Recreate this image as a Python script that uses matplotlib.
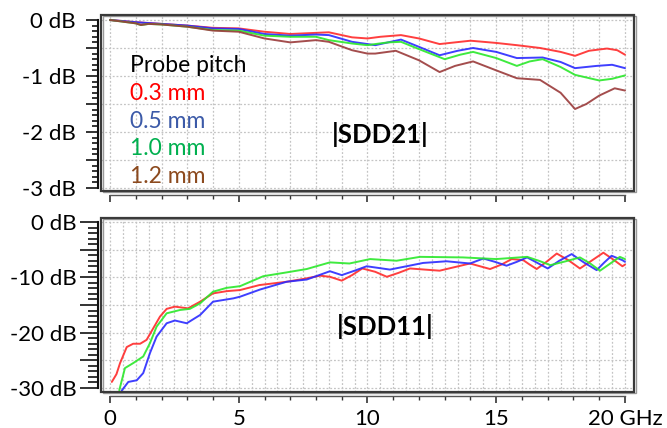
import numpy as np
import matplotlib
matplotlib.use("Agg")
import matplotlib.pyplot as plt
from matplotlib.patches import Rectangle
from matplotlib.ticker import MultipleLocator, FixedLocator, FuncFormatter

plt.rcParams['font.family'] = ['Lato', 'DejaVu Sans']

# ---------------- data ----------------
pitch_labels = ["0.3 mm", "0.5 mm", "1.0 mm", "1.2 mm"]
line_colors = ["#ff2a2a", "#2a2aff", "#2ae82a", "#9a3a3a"]
text_colors = ["#ff0000", "#3c5aa8", "#00b04f", "#8c4a1e"]

# |SDD21| (dB)
sdd21_f_03 = [0, 1, 2, 3, 4, 5, 6, 7, 8, 8.5, 9.4, 10, 10.5, 11.3, 12, 12.8, 14, 15, 15.8, 16.7, 17.5, 18.06, 18.6, 19.3, 19.7, 20]
sdd21_v_03 = [0, -0.04, -0.07, -0.10, -0.14, -0.15, -0.21, -0.25, -0.23, -0.22, -0.31, -0.33, -0.30, -0.27, -0.33, -0.43, -0.37, -0.41, -0.45, -0.50, -0.57, -0.64, -0.55, -0.51, -0.54, -0.62]

sdd21_f_05 = [0, 1, 2, 3, 4, 5, 6, 7, 8, 8.5, 9.4, 10, 10.3, 10.8, 11.3, 12, 12.8, 13.5, 14.1, 15, 15.8, 16.8, 17.5, 18.06, 18.9, 19.5, 20]
sdd21_v_05 = [0, -0.04, -0.07, -0.10, -0.15, -0.16, -0.25, -0.28, -0.26, -0.27, -0.39, -0.43, -0.45, -0.40, -0.35, -0.48, -0.63, -0.55, -0.50, -0.57, -0.68, -0.67, -0.75, -0.86, -0.82, -0.80, -0.86]

sdd21_f_10 = [0, 1, 1.2, 1.5, 2, 3, 4, 5, 6, 7, 8, 8.5, 9.4, 10, 10.3, 10.8, 11.3, 12, 13, 13.6, 14.1, 15, 15.8, 16.3, 16.8, 17.5, 18.06, 19, 19.5, 20]
sdd21_v_10 = [0, -0.06, -0.09, -0.07, -0.08, -0.12, -0.18, -0.19, -0.28, -0.30, -0.30, -0.36, -0.42, -0.45, -0.43, -0.40, -0.39, -0.52, -0.70, -0.62, -0.57, -0.68, -0.82, -0.74, -0.70, -0.84, -0.98, -1.08, -1.05, -0.99]

sdd21_f_12 = [0, 1, 1.2, 1.5, 2, 3, 4, 5, 6, 7, 8, 8.5, 9.4, 10, 10.3, 11.1, 12, 12.8, 13.4, 14.1, 15, 15.8, 16.7, 17.5, 18.06, 18.5, 19, 19.6, 20]
sdd21_v_12 = [0, -0.06, -0.09, -0.07, -0.08, -0.12, -0.19, -0.21, -0.33, -0.40, -0.36, -0.39, -0.54, -0.60, -0.60, -0.55, -0.72, -0.93, -0.82, -0.74, -0.90, -1.04, -1.07, -1.30, -1.59, -1.50, -1.35, -1.22, -1.26]

# |SDD11| (dB)
sdd11_f_03 = [0.07, 0.25, 0.39, 0.65, 0.9, 1.17, 1.42, 1.68, 1.94, 2.2, 2.52, 3.03, 3.5, 4.0, 4.53, 5.05, 5.8, 6.86, 7.5, 8.16, 8.54, 9.0, 9.4, 9.8, 10.3, 10.75, 11.2, 11.65, 12.8, 13.98, 14.76, 15.2, 15.6, 16.05, 16.3, 16.57, 16.95, 17.35, 17.8, 18.25, 18.7, 19.16, 19.55, 19.9, 20.0]
sdd11_v_03 = [-28.9, -27.5, -25.5, -22.6, -22.0, -22.0, -21.3, -19.2, -17.1, -15.7, -15.3, -15.6, -14.4, -12.9, -12.5, -12.3, -11.4, -10.8, -10.3, -9.7, -9.9, -10.6, -9.6, -8.4, -9.0, -9.9, -9.2, -8.4, -8.8, -7.5, -8.5, -7.7, -6.7, -6.9, -7.7, -8.5, -7.2, -5.7, -6.9, -8.4, -7.0, -5.55, -6.8, -8.0, -7.7]

sdd11_f_05 = [0.45, 0.71, 1.04, 1.29, 1.55, 1.81, 2.2, 2.52, 2.98, 3.5, 4.0, 4.79, 5.05, 5.83, 6.86, 7.64, 8.54, 9.0, 9.5, 9.97, 10.87, 12.16, 13.07, 13.98, 14.5, 14.95, 15.4, 15.8, 16.2, 16.6, 17.0, 17.45, 17.93, 18.4, 18.9, 19.2, 19.48, 19.9, 20.0]
sdd11_v_05 = [-30.5, -28.9, -28.6, -27.3, -23.7, -20.7, -18.3, -17.8, -18.3, -16.8, -14.4, -13.8, -13.5, -12.2, -10.8, -10.4, -8.9, -9.6, -8.8, -8.0, -8.6, -7.4, -7.1, -7.5, -6.6, -7.2, -7.9, -7.2, -6.4, -7.4, -8.4, -7.0, -5.8, -7.3, -8.7, -7.3, -6.1, -6.9, -7.2]

sdd11_f_10 = [0.36, 0.58, 0.9, 1.29, 1.55, 1.81, 2.2, 2.72, 3.1, 3.5, 4.0, 4.53, 5.05, 5.95, 6.87, 7.64, 8.54, 9.3, 10.1, 11.13, 12.04, 13.7, 15.0, 16.2, 16.65, 17.1, 17.7, 18.25, 18.65, 19.03, 19.4, 19.8, 20.0]
sdd11_v_10 = [-30.4, -26.4, -25.5, -24.3, -21.9, -18.9, -16.5, -15.9, -15.7, -14.7, -12.6, -11.9, -11.6, -9.8, -9.1, -8.5, -7.3, -7.5, -6.7, -7.0, -6.3, -6.4, -6.7, -6.3, -7.0, -7.8, -7.1, -6.4, -7.5, -8.8, -7.6, -6.3, -6.7]

sdd21_series = [(sdd21_f_03, sdd21_v_03), (sdd21_f_05, sdd21_v_05),
                (sdd21_f_10, sdd21_v_10), (sdd21_f_12, sdd21_v_12)]
sdd11_series = [(sdd11_f_03, sdd11_v_03), (sdd11_f_05, sdd11_v_05),
                (sdd11_f_10, sdd11_v_10)]

x_major = [0, 5, 10, 15, 20]
x_labels = ["0", "5", "10", "15", "20 GHz"]

# ---------------- figure ----------------
W, H = 667, 428
fig = plt.figure(figsize=(W / 100, H / 100), dpi=100)

def px_rect(x0, y0, x1, y1):
    return [x0 / W, 1 - y1 / H, (x1 - x0) / W, (y1 - y0) / H]

ax1 = fig.add_axes(px_rect(101, 15, 634, 191))
ax2 = fig.add_axes(px_rect(101, 218, 634, 392))

PT = 0.72  # points per pixel

def style(ax, ylo, yhi, ymaj, ymin, ylab_step, maj_len, min_len, ypad, vgrid, hgrid, show_xlabels):
    ax.set_xlim(-0.35, 20.35)
    ax.set_ylim(ylo, yhi)
    for s in ("top", "right"):
        ax.spines[s].set_visible(False)
    ax.spines["left"].set_position(("outward", 3.5 * PT))
    ax.spines["left"].set_linewidth(1.5)
    ax.spines["left"].set_color("#111111")
    ax.spines["bottom"].set_position(("outward", 4 * PT))
    ax.spines["bottom"].set_color("#555555")
    ax.spines["bottom"].set_linewidth(1.0)
    bottom_lim = -3 if ylo > -10 else -30
    ax.spines["left"].set_bounds(bottom_lim, 0)
    ax.spines["bottom"].set_bounds(0, 20)

    ax.yaxis.set_major_locator(MultipleLocator(ymaj))
    ax.yaxis.set_minor_locator(MultipleLocator(ymin))
    ax.yaxis.set_major_formatter(FuncFormatter(
        lambda v, p: (f"{int(round(v))} dB" if abs(v / ylab_step - round(v / ylab_step)) < 1e-6 else "")))
    ax.tick_params(axis="y", which="major", direction="out", length=maj_len * PT, width=1.2,
                   color="#111111", labelsize=16, pad=ypad * PT)
    ax.tick_params(axis="y", which="minor", direction="out", length=min_len * PT, width=1.2,
                   color="#111111")

    ax.xaxis.set_major_locator(FixedLocator(x_major))
    ax.xaxis.set_minor_locator(MultipleLocator(1))
    ax.tick_params(axis="x", which="major", direction="out", length=7 * PT, width=1.2,
                   color="#333333", labelsize=16, pad=6 * PT)
    ax.tick_params(axis="x", which="minor", direction="out", length=4 * PT, width=1.0,
                   color="#333333")
    if show_xlabels:
        ax.set_xticklabels(x_labels)
    else:
        ax.set_xticklabels([])

    # dotted grid
    for gx in vgrid:
        ax.axvline(gx, color="#c4c4c4", lw=0.9, ls=(0, (1.5, 1.5)), zorder=0)
    for gy in hgrid:
        ax.axhline(gy, color="#c4c4c4", lw=0.9, ls=(0, (1.5, 1.5)), zorder=0)

    ax.add_patch(Rectangle((0, 0), 1, 1, transform=ax.transAxes, fill=False,
                           edgecolor="#3a3a3a", lw=1.6, clip_on=False, zorder=5))
    ax.add_patch(Rectangle((0.003, -0.006), 1, 1, transform=ax.transAxes, fill=False,
                           edgecolor="#9a9a9a", lw=1.0, clip_on=False, zorder=4))

style(ax1, -3.054, 0.089, 0.5, 0.1, 1, 12, 6, 10,
      np.arange(0, 20.01, 1), np.arange(-3, 0.01, 0.5), False)
style(ax2, -30.72, 0.72, 5, 1, 10, 18, 10, 3,
      np.arange(0, 20.01, 0.5), np.arange(-30, 0.01, 5), True)

for (f, v), c in zip(sdd21_series, line_colors):
    ax1.plot(f, v, color=c, lw=1.4, alpha=0.9, solid_joinstyle="round",
             solid_capstyle="round", zorder=3)
for (f, v), c in zip(sdd11_series, line_colors[:3]):
    ax2.plot(f, v, color=c, lw=1.4, alpha=0.9, solid_joinstyle="round",
             solid_capstyle="round", zorder=3)

# legend-like text
ax1.text(0.78, -0.93, "Probe pitch", fontsize=16.5, color="black", ha="left", va="baseline")
for i, (lab, c) in enumerate(zip(pitch_labels, text_colors)):
    ax1.text(0.78, -1.43 - 0.495 * i, lab, fontsize=16.5, color=c, ha="left", va="baseline")

ax1.text(10.5, -2.19, "|SDD21|", fontsize=18.5, fontweight="bold", ha="center", va="baseline")
ax2.text(10.68, -20.4, "|SDD11|", fontsize=18.5, fontweight="bold", ha="center", va="baseline")

fig.savefig("out.png", dpi=100)
